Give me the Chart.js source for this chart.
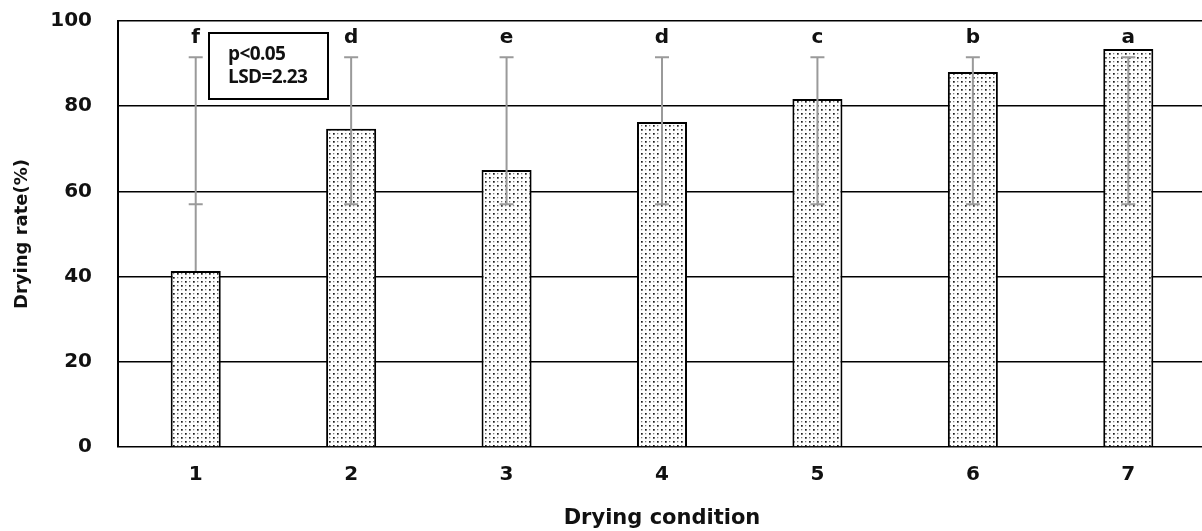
<!DOCTYPE html>
<html>
<head>
<meta charset="utf-8">
<script src="https://cdn.jsdelivr.net/npm/chart.js@4/dist/chart.umd.min.js"></script>
<style>
  html, body { margin: 0; padding: 0; background: #fff; overflow: hidden; }
  #wrap { width: 1206px; height: 531px; }
</style>
</head>
<body>
<div id="wrap"><canvas id="chart" width="1206" height="531"></canvas></div>
<script>
/*
Chart data
*/
const conditions = ["1", "2", "3", "4", "5", "6", "7"];
const dryingRate = [41.3, 74.7, 65.0, 76.3, 81.7, 88.0, 93.4];
const errLow = [57, 57, 57, 57, 57, 57, 57];
const errHigh = [91.5, 91.5, 91.5, 91.5, 91.5, 91.5, 91.5];
const groupLetters = ["f", "d", "e", "d", "c", "b", "a"];
const statLines = ["p<0.05", "LSD=2.23"];
const yTicks = [0, 20, 40, 60, 80, 100];

const wideFont = "'DejaVu Sans', sans-serif";
const narrowFont = "'Open Sans', 'DejaVu Sans', sans-serif";

/*
Dotted fill pattern for the bars
*/
function makeDotPattern() {
    const tile = document.createElement("canvas");
    tile.width = 8;
    tile.height = 8;
    const c = tile.getContext("2d");
    c.fillStyle = "#ffffff";
    c.fillRect(0, 0, 8, 8);
    c.fillStyle = "#1a1a1a";
    c.fillRect(1, 1, 1.7, 1.7);
    c.fillRect(5, 5, 1.7, 1.7);
    c.fillStyle = "#808080";
    c.fillRect(5, 1, 1.3, 1.3);
    c.fillRect(1, 5, 1.3, 1.3);
    return document.getElementById("chart").getContext("2d").createPattern(tile, "repeat");
}

/*
Error bars, group letters and the stats box
*/
const errorBarPlugin = {
    id: "errorBars",
    afterDatasetsDraw(chart) {
        const ctx = chart.ctx;
        const meta = chart.getDatasetMeta(0);
        const y = chart.scales.y;
        ctx.save();
        ctx.strokeStyle = "#9a9a9a";
        ctx.lineWidth = 2;
        meta.data.forEach((bar, i) => {
            const x = bar.x;
            const lo = y.getPixelForValue(errLow[i]);
            const hi = y.getPixelForValue(errHigh[i]);
            const start = y.getPixelForValue(Math.min(dryingRate[i], errLow[i]));
            ctx.beginPath();
            ctx.moveTo(x, start);
            ctx.lineTo(x, hi);
            ctx.moveTo(x - 7, lo);
            ctx.lineTo(x + 7, lo);
            ctx.moveTo(x - 7, hi);
            ctx.lineTo(x + 7, hi);
            ctx.stroke();
        });
        ctx.restore();
    }
};

const lettersPlugin = {
    id: "letters",
    afterDraw(chart) {
        const ctx = chart.ctx;
        const meta = chart.getDatasetMeta(0);
        const y = chart.scales.y.getPixelForValue(96);
        ctx.save();
        ctx.fillStyle = "#111";
        ctx.font = "bold 20px " + wideFont;
        ctx.textAlign = "center";
        ctx.textBaseline = "middle";
        meta.data.forEach((bar, i) => {
            ctx.fillText(groupLetters[i], bar.x, y);
        });
        ctx.restore();
    }
};

const statBoxPlugin = {
    id: "statBox",
    afterDraw(chart) {
        const ctx = chart.ctx;
        const area = chart.chartArea;
        const left = area.left + 91;
        const top = area.top + 12;
        ctx.save();
        ctx.strokeStyle = "#000";
        ctx.lineWidth = 2;
        ctx.fillStyle = "#fff";
        ctx.fillRect(left, top, 119, 66);
        ctx.strokeRect(left, top, 119, 66);
        ctx.fillStyle = "#111";
        ctx.font = "bold 19px " + narrowFont;
        ctx.letterSpacing = "-0.6px";
        ctx.textBaseline = "middle";
        ctx.fillText(statLines[0], left + 19, top + 22);
        ctx.fillText(statLines[1], left + 19, top + 45);
        ctx.restore();
    }
};

/*
Build chart
*/
const ctx = document.getElementById("chart").getContext("2d");
const chart = new Chart(ctx, {
    type: "bar",
    data: {
        labels: conditions,
        datasets: [
            {
                label: "Drying rate",
                data: dryingRate,
                backgroundColor: makeDotPattern(),
                borderColor: "#000",
                borderWidth: 2,
                borderSkipped: "bottom",
                categoryPercentage: 1.0,
                barPercentage: 0.322,
            },
        ]
    },
    options: {
        responsive: false,
        animation: false,
        devicePixelRatio: 1,
        layout: { padding: { top: 21, right: 0, bottom: 0, left: 0 } },
        plugins: {
            legend: { display: false },
            tooltip: { enabled: false },
        },
        scales: {
            x: {
                grid: { display: false },
                border: { display: false },
                ticks: {
                    color: "#111",
                    padding: 8,
                    font: { family: wideFont, size: 20, weight: "bold" },
                },
                title: {
                    display: true,
                    text: "Drying condition",
                    color: "#111",
                    padding: { top: 14, bottom: 0 },
                    font: { family: wideFont, size: 21, weight: "bold" },
                },
                afterFit(scale) { scale.height = 84; },
            },
            y: {
                min: 0,
                max: 100,
                afterBuildTicks(scale) {
                    scale.ticks = yTicks.map(v => ({ value: v }));
                },
                grid: {
                    color: "#000",
                    lineWidth: 1.5,
                    drawTicks: false,
                },
                border: { display: true, color: "#000", width: 2 },
                ticks: {
                    color: "#111",
                    padding: 26,
                    font: { family: wideFont, size: 20, weight: "bold" },
                },
                title: {
                    display: true,
                    text: "Drying rate(%)",
                    color: "#111",
                    padding: { top: 12, bottom: 0 },
                    font: { family: wideFont, size: 18, weight: "bold" },
                },
                afterFit(scale) {
                    scale.width = 118;
                    scale.paddingTop = 0;
                    scale.paddingBottom = 0;
                },
            },
        },
    },
    plugins: [errorBarPlugin, lettersPlugin, statBoxPlugin],
});
</script>
</body>
</html>
